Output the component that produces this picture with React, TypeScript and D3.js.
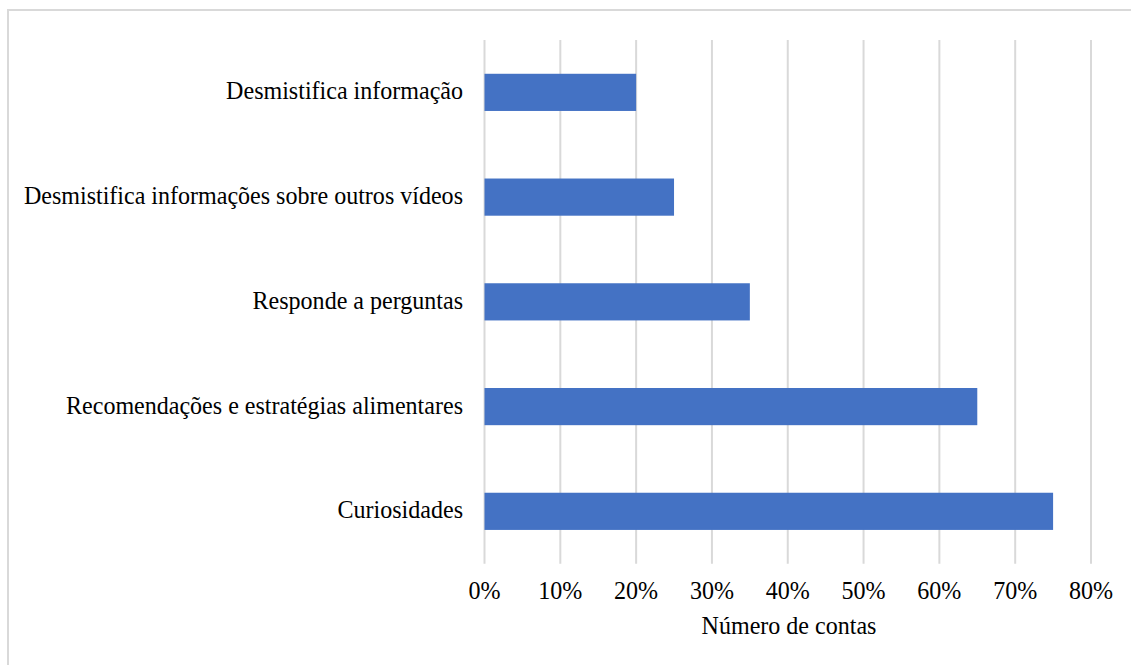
import React from "react";
import * as d3 from "d3";

const categories = [
  "Desmistifica informação",
  "Desmistifica informações sobre outros vídeos",
  "Responde a perguntas",
  "Recomendações e estratégias alimentares",
  "Curiosidades",
];
const values = [0.2, 0.25, 0.35, 0.65, 0.75];
const tickValues = [0, 0.1, 0.2, 0.3, 0.4, 0.5, 0.6, 0.7, 0.8];
const axisTitle = "Número de contas";

const W = 1131;
const H = 665;
const plot = { left: 484.5, right: 1091, top: 40, bottom: 563.7 };
const SX = 0.943;

export default function App() {
  const x = d3.scaleLinear().domain([0, 0.8]).range([plot.left, plot.right]);
  const y = d3
    .scaleBand<string>()
    .domain(categories)
    .range([plot.top, plot.bottom])
    .paddingInner(0.645)
    .paddingOuter(0.3225);
  const fmt = d3.format(".0%");
  const textStyle: React.CSSProperties = { fontFamily: "Liberation Serif", fontSize: 25.5 };
  return (
    <svg width={W} height={H} style={{ position: "absolute", left: 0, top: 0, background: "#fff" }}>
      <rect x={8} y={10} width={W + 10} height={H + 10} fill="#fff" stroke="#d9d9d9" strokeWidth={2} />
      {tickValues.map((t) => (
        <line key={t} x1={x(t)} x2={x(t)} y1={plot.top} y2={plot.bottom} stroke="#d9d9d9" strokeWidth={2} />
      ))}
      {categories.map((c, i) => (
        <rect key={c} x={x(0)} y={y(c)} width={x(values[i]) - x(0)} height={y.bandwidth()} fill="#4472c4" />
      ))}
      <g transform={`scale(${SX},1)`}>
        {categories.map((c) => (
          <text key={c} x={463 / SX} y={(y(c) as number) + y.bandwidth() / 2 + 7} textAnchor="end" style={textStyle} fill="#000">
            {c}
          </text>
        ))}
        {tickValues.map((t) => (
          <text key={t} x={x(t) / SX} y={599} textAnchor="middle" style={textStyle} fill="#000">
            {fmt(t)}
          </text>
        ))}
        <text x={789 / SX} y={634} textAnchor="middle" style={textStyle} fill="#000">
          {axisTitle}
        </text>
      </g>
    </svg>
  );
}
